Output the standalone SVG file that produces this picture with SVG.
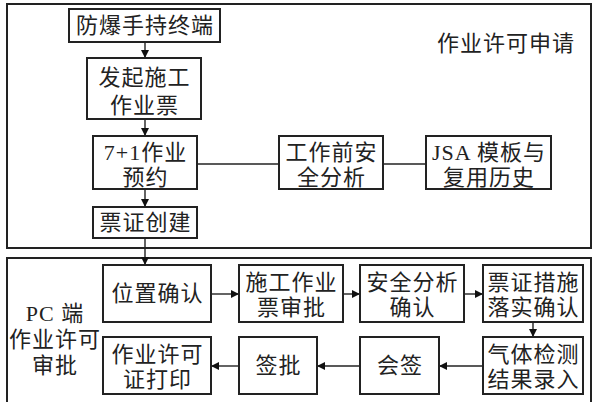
<svg xmlns="http://www.w3.org/2000/svg" width="594" height="402" viewBox="0 0 594 402">
<defs>
<marker id="ah" viewBox="0 0 10 10" refX="10" refY="5" markerWidth="8" markerHeight="8" markerUnits="userSpaceOnUse" orient="auto">
<path d="M0,0 L10,5 L0,10 z" fill="#111"/>
</marker>
<style>
.frame{fill:none;stroke:#222;stroke-width:2}
.box{fill:#fff;stroke:#222;stroke-width:2}
.t{font-family:"Liberation Serif","Noto Sans CJK SC",serif;font-size:22px;letter-spacing:1px;fill:#222;text-anchor:middle}
.c{fill:none;stroke:#222;stroke-width:1.4}
</style>
</defs>
<rect class="frame" x="7" y="4" width="584" height="244"/>
<rect class="frame" x="7" y="258" width="584" height="160"/>
<text class="t" x="506" y="51">作业许可申请</text>
<text class="t" x="55" y="321">PC 端</text>
<text class="t" x="55" y="347">作业许可</text>
<text class="t" x="55" y="373">审批</text>
<g id="connectors">
<line class="c" x1="145" y1="42" x2="145" y2="58" marker-end="url(#ah)"/>
<line class="c" x1="145" y1="119" x2="145" y2="136" marker-end="url(#ah)"/>
<line class="c" x1="145" y1="189" x2="145" y2="207" marker-end="url(#ah)"/>
<line class="c" x1="197" y1="164" x2="279" y2="164"/>
<line class="c" x1="383" y1="164" x2="426" y2="164"/>
<line class="c" x1="145" y1="238" x2="145" y2="265" marker-end="url(#ah)"/>
<line class="c" x1="211" y1="294" x2="239" y2="294" marker-end="url(#ah)"/>
<line class="c" x1="343" y1="294" x2="360" y2="294" marker-end="url(#ah)"/>
<line class="c" x1="464" y1="294" x2="483" y2="294" marker-end="url(#ah)"/>
<line class="c" x1="533" y1="322" x2="533" y2="337" marker-end="url(#ah)"/>
<line class="c" x1="483" y1="366" x2="439" y2="366" marker-end="url(#ah)"/>
<line class="c" x1="360" y1="366" x2="317" y2="366" marker-end="url(#ah)"/>
<line class="c" x1="239" y1="366" x2="211" y2="366" marker-end="url(#ah)"/>
</g>
<g id="n1"><rect class="box" x="69" y="9" width="151" height="33"/><text class="t" x="145" y="33">防爆手持终端</text></g>
<g id="n2"><rect class="box" x="87" y="58" width="114" height="61"/><text class="t" x="144.5" y="85">发起施工</text><text class="t" x="144.5" y="113">作业票</text></g>
<g id="n3"><rect class="box" x="93" y="136" width="104" height="53"/><text class="t" x="145.5" y="160">7+1作业</text><text class="t" x="145.5" y="185">预约</text></g>
<g id="n4"><rect class="box" x="93" y="207" width="104" height="31"/><text class="t" x="145.5" y="230">票证创建</text></g>
<g id="n5"><rect class="box" x="279" y="136" width="104" height="53"/><text class="t" x="331.5" y="160">工作前安</text><text class="t" x="331.5" y="185">全分析</text></g>
<g id="n6"><rect class="box" x="426" y="136" width="125" height="53"/><text class="t" x="489" y="160">JSA 模板与</text><text class="t" x="489" y="185">复用历史</text></g>
<g id="n7"><rect class="box" x="103" y="265" width="108" height="57"/><text class="t" x="157.5" y="301">位置确认</text></g>
<g id="n8"><rect class="box" x="239" y="265" width="104" height="57"/><text class="t" x="291.5" y="290">施工作业</text><text class="t" x="291.5" y="315">票审批</text></g>
<g id="n9"><rect class="box" x="360" y="265" width="104" height="57"/><text class="t" x="412.5" y="290">安全分析</text><text class="t" x="412.5" y="315">确认</text></g>
<g id="n10"><rect class="box" x="483" y="265" width="100" height="57"/><text class="t" x="533.5" y="290">票证措施</text><text class="t" x="533.5" y="315">落实确认</text></g>
<g id="n11"><rect class="box" x="483" y="337" width="100" height="57"/><text class="t" x="533.5" y="362">气体检测</text><text class="t" x="533.5" y="387">结果录入</text></g>
<g id="n12"><rect class="box" x="360" y="337" width="79" height="57"/><text class="t" x="400" y="373">会签</text></g>
<g id="n13"><rect class="box" x="239" y="337" width="78" height="57"/><text class="t" x="278.5" y="373">签批</text></g>
<g id="n14"><rect class="box" x="103" y="337" width="108" height="57"/><text class="t" x="157.5" y="362">作业许可</text><text class="t" x="157.5" y="387">证打印</text></g>
</svg>
